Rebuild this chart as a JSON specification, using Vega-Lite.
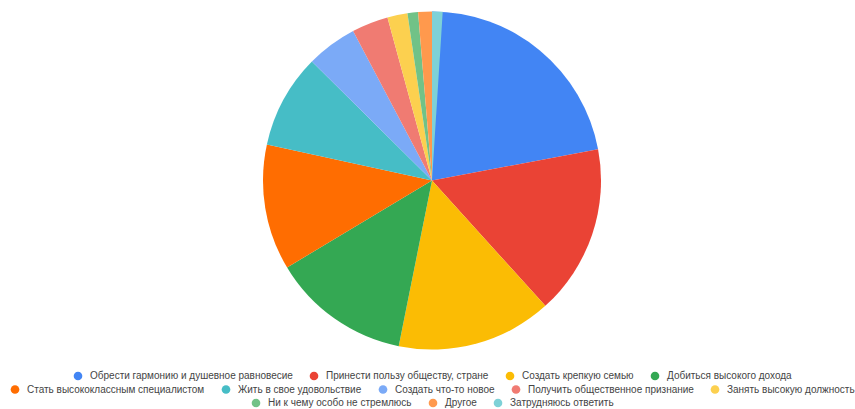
{
  "$schema": "https://vega.github.io/schema/vega-lite/v6.json",
  "width": 846,
  "height": 361,
  "padding": {"left": 9, "right": 0, "top": 0, "bottom": 0},
  "background": "white",
  "data": {
    "values": [
      {"order": 1, "label": "Обрести гармонию и душевное равновесие", "value": 21.8, "row": "r1"},
      {"order": 2, "label": "Принести пользу обществу, стране", "value": 16.1, "row": "r1"},
      {"order": 3, "label": "Создать крепкую семью", "value": 14.7, "row": "r1"},
      {"order": 4, "label": "Добиться высокого дохода", "value": 13.1, "row": "r1"},
      {"order": 5, "label": "Стать высококлассным специалистом", "value": 11.9, "row": "r2"},
      {"order": 6, "label": "Жить в свое удовольствие", "value": 8.9, "row": "r2"},
      {"order": 7, "label": "Создать что-то новое", "value": 4.8, "row": "r2"},
      {"order": 8, "label": "Получить общественное признание", "value": 3.45, "row": "r2"},
      {"order": 9, "label": "Занять высокую должность", "value": 1.9, "row": "r2"},
      {"order": 10, "label": "Ни к чему особо не стремлюсь", "value": 1.0, "row": "r3"},
      {"order": 11, "label": "Другое", "value": 1.3, "row": "r3"},
      {"order": 12, "label": "Затрудняюсь ответить", "value": 1.0, "row": "r3"}
    ]
  },
  "transform": [
    {"stack": "value", "groupby": [], "sort": [{"field": "order", "order": "ascending"}], "as": ["v0", "v1"]}
  ],
  "layer": [
    {
      "transform": [{"filter": "datum.row === 'r1'"}],
      "mark": {"type": "arc", "outerRadius": 169},
      "encoding": {
        "theta": {"field": "v0", "type": "quantitative"},
        "theta2": {"field": "v1"},
        "color": {
          "field": "label", "type": "nominal",
          "scale": {
            "domain": ["Обрести гармонию и душевное равновесие", "Принести пользу обществу, стране", "Создать крепкую семью", "Добиться высокого дохода"],
            "range": ["#4285F4", "#EA4335", "#FBBC04", "#34A853"]
          },
          "legend": {"orient": "bottom", "direction": "horizontal", "title": null}
        }
      }
    },
    {
      "transform": [{"filter": "datum.row === 'r2'"}],
      "mark": {"type": "arc", "outerRadius": 169},
      "encoding": {
        "theta": {"field": "v0", "type": "quantitative"},
        "theta2": {"field": "v1"},
        "color": {
          "field": "label", "type": "nominal",
          "scale": {
            "domain": ["Стать высококлассным специалистом", "Жить в свое удовольствие", "Создать что-то новое", "Получить общественное признание", "Занять высокую должность"],
            "range": ["#FF6D01", "#46BDC6", "#7BAAF7", "#F07B72", "#FCD04F"]
          },
          "legend": {"orient": "bottom", "direction": "horizontal", "title": null}
        }
      }
    },
    {
      "transform": [{"filter": "datum.row === 'r3'"}],
      "mark": {"type": "arc", "outerRadius": 169},
      "encoding": {
        "theta": {"field": "v0", "type": "quantitative"},
        "theta2": {"field": "v1"},
        "color": {
          "field": "label", "type": "nominal",
          "scale": {
            "domain": ["Ни к чему особо не стремлюсь", "Другое", "Затрудняюсь ответить"],
            "range": ["#71C287", "#FF994D", "#7ED1D7"]
          },
          "legend": {"orient": "bottom", "direction": "horizontal", "title": null}
        }
      }
    }
  ],
  "resolve": {"scale": {"color": "independent"}},
  "config": {
    "view": {"stroke": null},
    "legend": {
      "labelFont": "Liberation Sans",
      "labelFontSize": 10,
      "labelColor": "#444444",
      "symbolType": "circle",
      "symbolSize": 75,
      "symbolStrokeWidth": 0,
      "labelOffset": 7,
      "columnPadding": 16,
      "offset": 10,
      "padding": 0,
      "labelLimit": 400,
      "layout": {"bottom": {"anchor": "middle", "direction": "vertical", "center": true, "margin": 3.5}}
    }
  }
}
